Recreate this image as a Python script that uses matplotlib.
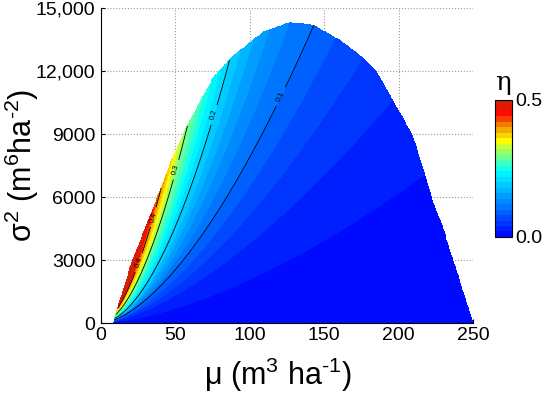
import numpy as np
import matplotlib
matplotlib.use("Agg")
import matplotlib.pyplot as plt
from matplotlib.colors import LinearSegmentedColormap

plt.rcParams['font.family'] = ['Liberation Sans', 'DejaVu Sans']
plt.rcParams['mathtext.fontset'] = 'custom'
plt.rcParams['mathtext.rm'] = 'Liberation Sans'
plt.rcParams['mathtext.it'] = 'Liberation Sans'

# upper edge of the feasible region (mu, max sigma^2)
edge_mu = [8, 10, 14, 20.6, 30, 39, 47, 58, 75.5, 88, 109, 127, 142.7, 160, 175, 185,
           197, 209, 216, 222, 230, 236.6, 243, 250]
edge_s2 = [0, 480, 1400, 2900, 4600, 6200, 7700, 9430, 11700, 12670, 13860, 14330, 14190,
           13500, 12700, 12000, 10500, 9000, 7500, 6000, 4500, 3000, 1600, 0]

# iso-eta lines, two points read on each (mu, sigma^2)
eta_lines = [0.02, 0.04, 0.1, 0.2, 0.3, 0.4, 0.5]
line_mu1 = [66.5, 66.5, 55.3, 39.6, 30.7, 26.0, 22.8]
line_s1 = [1100, 2050, 3000, 3000, 3000, 3000, 2920]
line_mu2 = [214, 192, 142.5, 86.7, 58.5, 35.2, 28.0]
line_s2 = [6900, 10300, 14100, 12600, 9520, 5060, 4150]

# label spots of the drawn contours
label_pos = [(121.6, 10760), (76.6, 9900), (51, 7290), (35, 5050), (23, 2950)]

# colour ramp (fraction, rgb)
cb_pos = [0.0, 0.48, 0.6, 0.7, 0.8, 0.9, 1.0]
cb_rgb = [(0, 0, 255), (0, 255, 255), (128, 255, 128), (255, 255, 0),
          (240, 150, 0), (255, 10, 0), (200, 35, 10)]

cmap = LinearSegmentedColormap.from_list(
    'eta', [(p, tuple(v / 255 for v in rgb)) for p, rgb in zip(cb_pos, cb_rgb)])

# build the field from the read lines: sigma^2 = c * mu^a for each level
m1, s1, m2, s2 = map(np.array, (line_mu1, line_s1, line_mu2, line_s2))
a = np.log(s2 / s1) / np.log(m2 / m1)
c = s1 / m1 ** a

mu = np.linspace(0.01, 250, 400)
sig = np.linspace(0, 15000, 400)
MU, SIG = np.meshgrid(mu, sig)

S = np.concatenate([np.zeros((1,) + MU.shape),
                    c[:, None, None] * MU[None] ** a[:, None, None]])
E = np.concatenate([[0.0], eta_lines])
k = (SIG[None] >= S).sum(0) - 1
k = np.clip(k, 0, len(E) - 2)
lo = np.take_along_axis(S, k[None], 0)[0]
hi = np.take_along_axis(S, k[None] + 1, 0)[0]
eta = E[k] + (SIG - lo) / (hi - lo) * (E[k + 1] - E[k])
eta = np.clip(eta, 0, 0.4999)

top = np.interp(MU, edge_mu, edge_s2)
eta = np.ma.masked_where((MU < edge_mu[0]) | (SIG > top), eta)

fig = plt.figure(figsize=(5.5, 3.93), dpi=100)
ax = fig.add_axes([0.1836, 0.178, 0.6764, 0.8016])

cf = ax.contourf(MU, SIG, eta, levels=np.linspace(0, 0.5, 26), cmap=cmap, zorder=2)
cs = ax.contour(MU, SIG, eta, levels=[0.1, 0.2, 0.3, 0.4, 0.5], colors='k',
                linewidths=0.6, zorder=3)
ax.clabel(cs, fmt='%.1f', fontsize=5.5, inline=True, manual=label_pos)

ax.set_xlim(0, 250)
ax.set_ylim(0, 15000)
ax.set_xticks([0, 50, 100, 150, 200, 250])
ax.set_yticks([0, 3000, 6000, 9000, 12000, 15000])
ax.set_yticklabels(['0', '3000', '6000', '9000', '12,000', '15,000'])
ax.tick_params(direction='in', labelsize=14, length=3)
ax.tick_params(axis='x', pad=3)
ax.tick_params(axis='y', pad=4)
ax.grid(True, linestyle=':', color='0.6', linewidth=0.8, zorder=0)
ax.set_axisbelow(True)
for side in ('top', 'right'):
    ax.spines[side].set_visible(False)

ax.set_xlabel(r'μ (m$^{\text{3}}$ ha$^{\text{-1}}$)', fontsize=22)
ax.set_ylabel(r'σ$^{\text{2}}$ (m$^{\text{6}}$ha$^{\text{-2}}$)', fontsize=22)
ax.xaxis.set_label_coords(0.474, -0.105)
ax.yaxis.set_label_coords(-0.16, 0.5)

cax = fig.add_axes([0.9, 0.397, 0.031, 0.349])
cb = fig.colorbar(cf, cax=cax, ticks=[0, 0.5], format='%.1f')
cb.ax.tick_params(length=0, labelsize=14, pad=2)
cb.outline.set_linewidth(0.8)
fig.text(0.915, 0.79, 'η', fontsize=19, family='DejaVu Serif', ha='center', va='center')

fig.savefig('out.png', dpi=100)
